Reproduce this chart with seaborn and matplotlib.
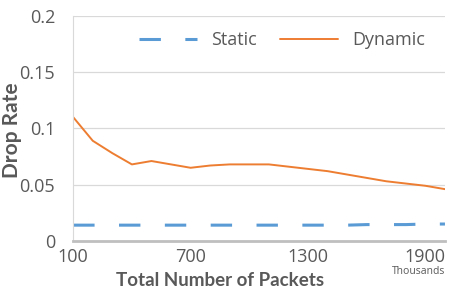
import pandas as pd
import seaborn as sns
import matplotlib.pyplot as plt

packets = [100, 200, 300, 400, 500, 600, 700, 800, 900, 1000,
           1100, 1200, 1300, 1400, 1500, 1600, 1700, 1800, 1900, 2000]
static = [0.014, 0.014, 0.014, 0.014, 0.014, 0.014, 0.014, 0.014, 0.014, 0.014,
          0.014, 0.014, 0.014, 0.014, 0.014, 0.0145, 0.0145, 0.0145, 0.015, 0.015]
dynamic = [0.110, 0.089, 0.078, 0.068, 0.071, 0.068, 0.065, 0.067, 0.068, 0.068,
           0.068, 0.066, 0.064, 0.062, 0.059, 0.056, 0.053, 0.051, 0.049, 0.046]

df = pd.DataFrame({'packets': packets * 2,
                   'rate': static + dynamic,
                   'scheme': ['Static'] * len(packets) + ['Dynamic'] * len(packets)})

sns.set_style('white')
plt.rcParams['font.family'] = ['Open Sans', 'DejaVu Sans']
grey = '#595959'

fig, ax = plt.subplots(figsize=(4.49, 3.0), dpi=100)
fig.subplots_adjust(left=0.163, right=0.991, top=0.947, bottom=0.197)

ax = sns.lineplot(data=df, x='packets', y='rate', hue='scheme', style='scheme',
                  palette={'Static': '#5B9BD5', 'Dynamic': '#ED7D31'},
                  dashes={'Static': (7, 8), 'Dynamic': ''},
                  ax=ax)
for ln in ax.lines:
    if ln.get_color() == '#5B9BD5':
        ln.set_linewidth(2.2)
    else:
        ln.set_linewidth(1.4)

ax.set_xlim(100, 2000)
ax.set_ylim(0, 0.2)
ax.set_xticks([100, 700, 1300, 1900])
ax.set_yticks([0, 0.05, 0.1, 0.15, 0.2])
ax.set_yticklabels(['0', '0.05', '0.1', '0.15', '0.2'])
ax.grid(axis='y', color='#D9D9D9', linewidth=0.9)
ax.set_axisbelow(True)
for s in ['top', 'right']:
    ax.spines[s].set_visible(False)
ax.spines['left'].set_color('#D9D9D9')
ax.spines['bottom'].set_color('#BFBFBF')
ax.spines['bottom'].set_linewidth(2)
ax.tick_params(axis='both', labelsize=13, colors=grey, length=0)
ax.tick_params(axis='y', pad=13)
ax.tick_params(axis='x', pad=5)

ax.set_xlabel('Total Number of Packets', fontsize=13.5, fontweight='bold', color=grey,
              family=['Lato', 'DejaVu Sans'])
ax.set_ylabel('Drop Rate', fontsize=15, fontweight='bold', color=grey,
              family=['Lato', 'DejaVu Sans'])
ax.xaxis.set_label_coords(0.395, -0.14)
ax.yaxis.set_label_coords(-0.138, 0.49)
ax.text(1.0, -0.137, 'Thousands', transform=ax.transAxes, ha='right', va='center',
        fontsize=7.5, color=grey)

leg = ax.legend(loc='center', bbox_to_anchor=(0.562, 0.893), ncol=2, frameon=False,
                fontsize=13, handlelength=3.2, handletextpad=0.8, columnspacing=1.3,
                title=None)
for t in leg.get_texts():
    t.set_color(grey)

plt.savefig('out.png', dpi=100)
